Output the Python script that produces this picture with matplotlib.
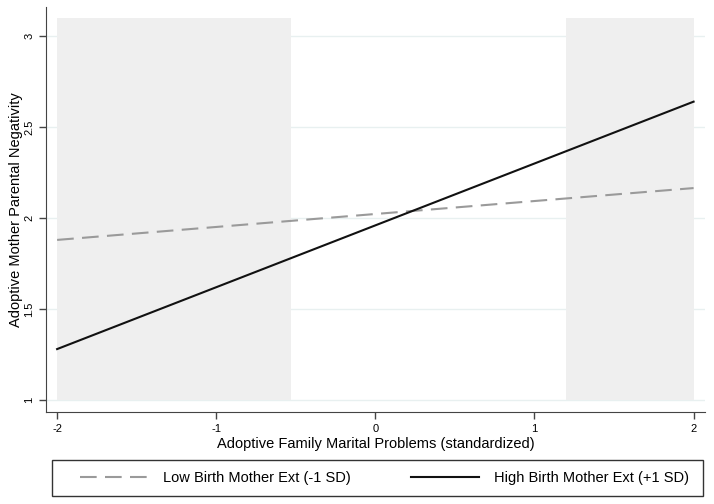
import matplotlib
matplotlib.use('Agg')
import matplotlib.pyplot as plt
from matplotlib.patches import Rectangle

plt.rcParams['font.family'] = ['Liberation Sans', 'DejaVu Sans']

# data
x_vals = [-2, 2]
low_ext = [1.88, 2.165]    # Low Birth Mother Ext (-1 SD)
high_ext = [1.28, 2.64]    # High Birth Mother Ext (+1 SD)
shade_left = [-2, -0.53]
shade_right = [1.2, 2]
shade_y = [1, 3.1]
xticks = [-2, -1, 0, 1, 2]
yticks = [1, 1.5, 2, 2.5, 3]
ytick_labels = ['1', '1.5', '2', '2.5', '3']

fig = plt.figure(figsize=(7.14, 5.04), dpi=100)
ax = fig.add_axes([0.0644, 0.1825, 0.9226, 0.8035])

for sx in (shade_left, shade_right):
    ax.fill_between(sx, shade_y[0], shade_y[1], color='#efefef', lw=0, zorder=1)

for yt in yticks:
    ax.axhline(yt, color='#e8f0f0', lw=1, zorder=0.5)

l1, = ax.plot(x_vals, low_ext, color='#9a9a9a', lw=1.5, dashes=(8, 4), zorder=3)
l2, = ax.plot(x_vals, high_ext, color='#111111', lw=1.5, zorder=3)

ax.set_xlim(-2.07, 2.07)
ax.set_ylim(0.934, 3.16)
ax.set_xticks(xticks)
ax.set_xticklabels([str(t) for t in xticks], fontsize=8)
ax.set_yticks(yticks)
ax.set_yticklabels(ytick_labels, fontsize=8, rotation=90, va='center')
ax.tick_params(direction='out', length=5, color='#444444', width=1)
for s in ('top', 'right'):
    ax.spines[s].set_visible(False)
for s in ('left', 'bottom'):
    ax.spines[s].set_color('#444444')

ax.set_xlabel('Adoptive Family Marital Problems (standardized)', fontsize=10.5, labelpad=2)
ax.set_ylabel('Adoptive Mother Parental Negativity', fontsize=10.5, labelpad=1)

# legend box drawn separately
fig.add_artist(Rectangle((0.0728, 0.0159), 0.912, 0.0714, transform=fig.transFigure,
                         fill=False, edgecolor='#333333', lw=1))
leg = fig.legend([l1, l2], ['Low Birth Mother Ext (-1 SD)', 'High Birth Mother Ext (+1 SD)'],
                 loc='center left', bbox_to_anchor=(0.112, 0.0516, 0.853, 0.0),
                 mode='expand', ncol=2, fontsize=10.5, frameon=False,
                 handlelength=4.7, handletextpad=1.0, borderpad=0, borderaxespad=0,
                 columnspacing=4)

fig.savefig('out.png', dpi=100)
